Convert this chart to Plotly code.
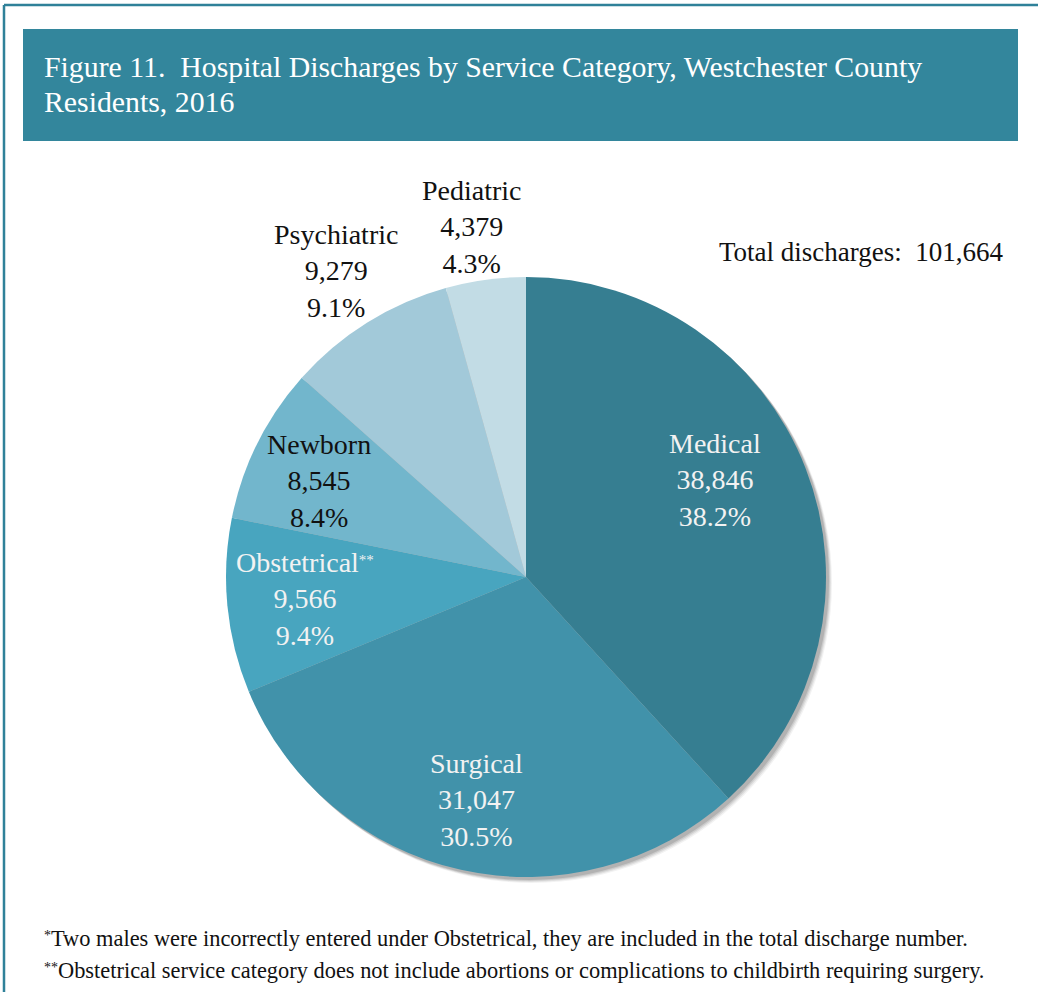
import math
import plotly.graph_objects as go

# data
categories = ["Medical", "Surgical", "Obstetrical", "Newborn", "Psychiatric", "Pediatric"]
label_names = ["Medical", "Surgical", "Obstetrical<span style='font-size:15px;baseline-shift:7px'>**</span>",
               "Newborn", "Psychiatric", "Pediatric"]
discharges = [38846, 31047, 9566, 8545, 9279, 4379]
percents = [38.2, 30.5, 9.4, 8.4, 9.1, 4.3]
total_discharges = 101664

colors = ["#367E91", "#4192AA", "#48A5BF", "#72B6CC", "#A2C9D9", "#C2DCE5"]
text_colors = ["#F2F2F2", "#F2F2F2", "#F2F2F2", "#111111", "#111111", "#111111"]
label_dist = [0.71, 0.76, 0.74, 0.76, 1.20, 1.18]  # fraction of radius
label_turn = [-6, 0, 0, -1.5, 0, -1]  # small angle nudge in degrees

W, H = 1038, 992
FONT = "Liberation Serif"

# pie placement in pixels
cx, cy, r = 526, 577, 300


def px(x):
    return x / W


def py(y):
    return 1 - y / H


fig = go.Figure()

# soft drop shadow under the pie
for off, alpha in [(6, 0.05), (5, 0.07), (4, 0.09), (3, 0.12)]:
    fig.add_trace(go.Pie(
        values=[total_discharges], sort=False, textinfo="none", hoverinfo="none", showlegend=False,
        marker=dict(colors=[f"rgba(0,0,0,{alpha})"], line=dict(width=0)),
        domain=dict(x=[px(cx - r + off), px(cx + r + off)], y=[py(cy + r + off), py(cy - r + off)]),
    ))

fig.add_trace(go.Pie(
    labels=categories, values=discharges, sort=False, direction="clockwise", rotation=0,
    marker=dict(colors=colors, line=dict(width=0)),
    textinfo="none", hoverinfo="none", showlegend=False,
    domain=dict(x=[px(cx - r), px(cx + r)], y=[py(cy + r), py(cy - r)]),
))

# slice labels, placed along each slice's middle angle
annotations = []
tot = sum(discharges)
cum = 0
for i, v in enumerate(discharges):
    mid = (cum + v / 2) / tot * 2 * math.pi + math.radians(label_turn[i])
    cum += v
    d = r * label_dist[i]
    lx = cx + d * math.sin(mid)
    ly = cy - d * math.cos(mid)
    annotations.append(dict(
        x=px(lx), y=py(ly), xref="paper", yref="paper", showarrow=False,
        xanchor="center", yanchor="middle",
        text=f"{label_names[i]}<br>{discharges[i]:,}<br>{percents[i]}%",
        font=dict(family=FONT, size=28, color=text_colors[i]), align="center",
    ))

# title in banner
title_lines = ["Figure 11.  Hospital Discharges by Service Category, Westchester County",
               "Residents, 2016"]
for k, line in enumerate(title_lines):
    annotations.append(dict(
        x=px(42), y=py(67 + 35 * k), xref="paper", yref="paper", xanchor="left", yanchor="middle",
        showarrow=False, align="left", text=line,
        font=dict(family=FONT, size=29.8, color="white"),
    ))

annotations.append(dict(
    x=px(1006), y=py(252), xref="paper", yref="paper", xanchor="right", yanchor="middle",
    showarrow=False, text=f"Total discharges:  {total_discharges:,}",
    font=dict(family=FONT, size=27, color="#111111"),
))

notes = [
    "<span style='font-size:14px;baseline-shift:6px'>*</span>Two males were incorrectly entered under Obstetrical, they are included in the total discharge number.",
    "<span style='font-size:14px;baseline-shift:6px'>**</span>Obstetrical service category does not include abortions or complications to childbirth requiring surgery.",
]
for k, line in enumerate(notes):
    annotations.append(dict(
        x=px(42), y=py(938 + 32 * k), xref="paper", yref="paper", xanchor="left", yanchor="middle",
        showarrow=False, align="left", text=line,
        font=dict(family=FONT, size=22.4, color="#111111"),
    ))

shapes = [
    # banner
    dict(type="rect", xref="paper", yref="paper", x0=px(23), x1=px(1018), y0=py(141), y1=py(29),
         fillcolor="#33869C", line=dict(width=0), layer="below"),
    # outer frame
    dict(type="line", xref="paper", yref="paper", x0=px(4), x1=1, y0=py(5), y1=py(5),
         line=dict(color="#2F8199", width=2.5)),
    dict(type="line", xref="paper", yref="paper", x0=px(4), x1=px(4), y0=py(5), y1=0,
         line=dict(color="#2F8199", width=2.5)),
]

fig.update_layout(
    width=W, height=H, margin=dict(l=0, r=0, t=0, b=0),
    paper_bgcolor="white", plot_bgcolor="white",
    annotations=annotations, shapes=shapes,
)

# drop the default body margin so the chart sits at the page corner
fig.write_html("out.html", config={"displayModeBar": False},
               post_script="document.body.style.margin='0';")
